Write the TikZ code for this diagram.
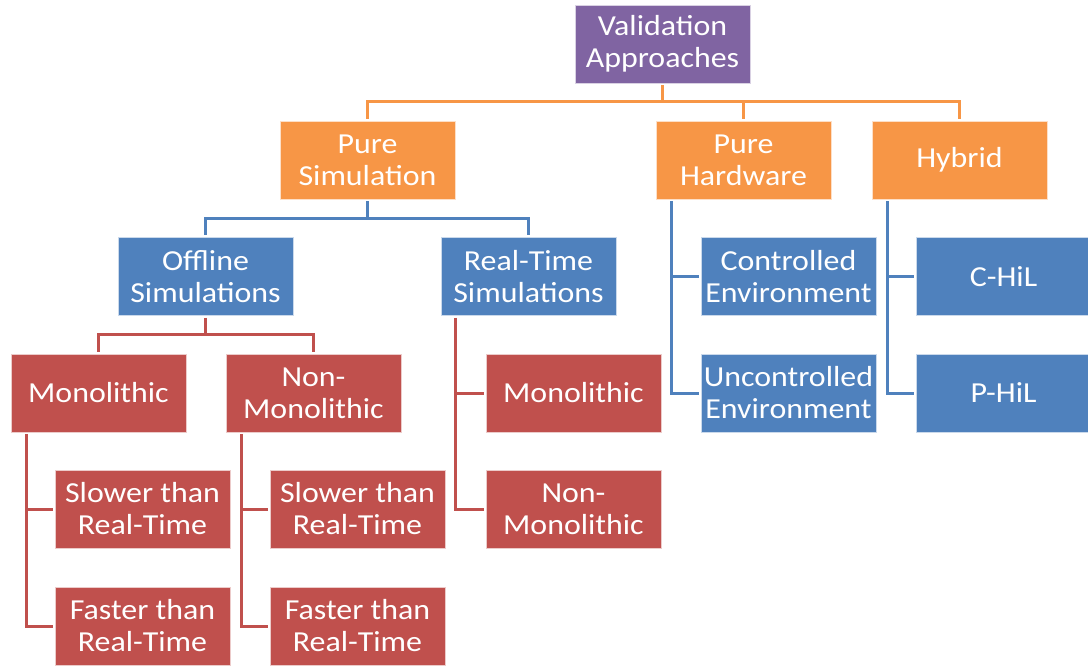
\documentclass[tikz,border=0pt]{standalone}
\usepackage{fontspec}
\setmainfont{Carlito}[FakeStretch=1.1]
\definecolor{cpurple}{HTML}{8064A2}
\definecolor{corange}{HTML}{F79646}
\definecolor{cblue}{HTML}{4F81BD}
\definecolor{cred}{HTML}{C0504D}
\begin{document}
\begin{tikzpicture}[x=1pt,y=-1pt,
  box/.style={minimum width=175pt,minimum height=78pt,inner sep=0pt,
    text=white,align=center,font=\fontsize{29}{32}\selectfont,
    draw=white!70!#1,line width=0.6pt,fill=#1},
  ln/.style={draw=#1,line width=3pt}]
\useasboundingbox (0,0) rectangle (1088,666);
% level 0
\node[box=cpurple] (va) at (662.5,44) {Validation\\Approaches};
% level 1
\node[box=corange] (ps) at (367.5,160) {Pure\\Simulation};
\node[box=corange] (ph) at (743.5,160) {Pure\\Hardware};
\node[box=corange] (hy) at (959.5,160) {Hybrid};
% level 2
\node[box=cblue] (os) at (205.5,276.5) {Offline\\Simulations};
\node[box=cblue] (rts) at (528.5,276.5) {Real-Time\\Simulations};
\node[box=cblue] (ce) at (788.5,276.5) {Controlled\\Environment};
\node[box=cblue] (ue) at (788.5,393) {Uncontrolled\\Environment};
\node[box=cblue] (ch) at (1003.5,276.5) {C-HiL};
\node[box=cblue] (ph2) at (1003.5,393) {P-HiL};
% level 3
\node[box=cred] (mo) at (98.5,393) {Monolithic};
\node[box=cred] (nm) at (313.5,393) {Non-\\Monolithic};
\node[box=cred] (rmo) at (573.5,393) {Monolithic};
\node[box=cred] (rnm) at (573.5,509) {Non-\\Monolithic};
% level 4
\node[box=cred] (s1) at (142.5,509) {Slower than\\Real-Time};
\node[box=cred] (f1) at (142.5,626) {Faster than\\Real-Time};
\node[box=cred] (s2) at (357.5,509) {Slower than\\Real-Time};
\node[box=cred] (f2) at (357.5,626) {Faster than\\Real-Time};
% bus connectors
\foreach \c in {ps,ph,hy}
  \draw[ln=corange] ([yshift=-2pt]va.south) |- ([yshift=19pt]\c.north) -- ([yshift=2pt]\c.north);
\foreach \c in {os,rts}
  \draw[ln=cblue] ([yshift=-2pt]ps.south) |- ([yshift=19pt]\c.north) -- ([yshift=2pt]\c.north);
\foreach \c in {mo,nm}
  \draw[ln=cred] ([yshift=-2pt]os.south) |- ([yshift=19pt]\c.north) -- ([yshift=2pt]\c.north);
% elbow connectors
\foreach \c in {ce,ue}
  \draw[ln=cblue] ([xshift=16pt,yshift=-2pt]ph.south west) |- ([xshift=-2pt]\c.west);
\foreach \c in {ch,ph2}
  \draw[ln=cblue] ([xshift=16pt,yshift=-2pt]hy.south west) |- ([xshift=-2pt]\c.west);
\foreach \c in {rmo,rnm}
  \draw[ln=cred] ([xshift=15pt,yshift=-2pt]rts.south west) |- ([xshift=-2pt]\c.west);
\foreach \c in {s1,f1}
  \draw[ln=cred] ([xshift=16pt,yshift=-2pt]mo.south west) |- ([xshift=-2pt]\c.west);
\foreach \c in {s2,f2}
  \draw[ln=cred] ([xshift=16pt,yshift=-2pt]nm.south west) |- ([xshift=-2pt]\c.west);
\end{tikzpicture}
\end{document}
